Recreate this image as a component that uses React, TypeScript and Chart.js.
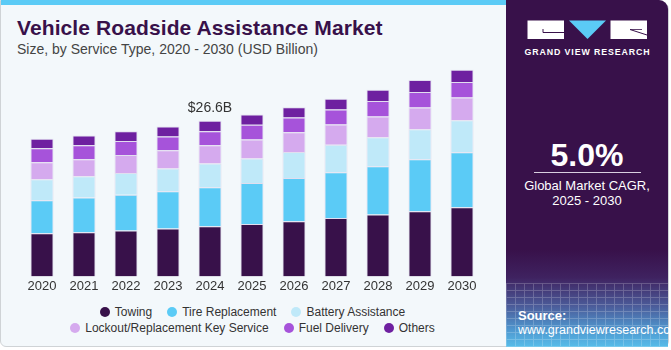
import React, { useEffect, useRef } from "react";
import { Chart, registerables } from "chart.js";

Chart.register(...registerables);

const years = ["2020", "2021", "2022", "2023", "2024", "2025", "2026", "2027", "2028", "2029", "2030"];
const towing = [7.37, 7.54, 7.83, 8.17, 8.57, 8.96, 9.42, 9.99, 10.57, 11.13, 11.82];
const tireReplacement = [5.65, 5.94, 6.12, 6.39, 6.68, 7.02, 7.42, 7.83, 8.27, 8.91, 9.42];
const batteryAssistance = [3.6, 3.65, 3.72, 3.89, 4.06, 4.16, 4.45, 4.68, 4.97, 5.14, 5.48];
const lockoutKey = [2.91, 2.91, 3.08, 3.13, 3.13, 3.25, 3.37, 3.48, 3.55, 3.72, 3.89];
const fuelDelivery = [2.4, 2.4, 2.4, 2.35, 2.4, 2.52, 2.52, 2.57, 2.62, 2.62, 2.62];
const others = [1.59, 1.66, 1.66, 1.71, 1.76, 1.76, 1.76, 1.83, 1.94, 2.06, 2.11];
const seriesNames = ["Towing", "Tire Replacement", "Battery Assistance", "Lockout/Replacement Key Service", "Fuel Delivery", "Others"];
const seriesColors = ["#38114a", "#5bcbf6", "#bfe9f9", "#d5aaee", "#a653da", "#6e20a0"];
const calloutIndex = 4;
const calloutText = "$26.6B";

const FONT = "'Liberation Sans', Arial, sans-serif";

const calloutPlugin = {
  id: "callout",
  afterDatasetsDraw(chart: any) {
    const { ctx, scales } = chart;
    const total = [towing, tireReplacement, batteryAssistance, lockoutKey, fuelDelivery, others]
      .reduce((s, arr) => s + arr[calloutIndex], 0);
    const x = scales.x.getPixelForValue(calloutIndex);
    const y = scales.y.getPixelForValue(total);
    ctx.save();
    ctx.font = `14px ${FONT}`;
    ctx.fillStyle = "#333333";
    ctx.textAlign = "center";
    ctx.textBaseline = "alphabetic";
    ctx.fillText(calloutText, x, y - 9);
    ctx.restore();
  },
};

function BarChart() {
  const ref = useRef<HTMLCanvasElement | null>(null);
  useEffect(() => {
    if (!ref.current) return;
    const data = [towing, tireReplacement, batteryAssistance, lockoutKey, fuelDelivery, others];
    const chart = new Chart(ref.current, {
      type: "bar",
      data: {
        labels: years,
        datasets: data.map((d, i) => ({
          label: seriesNames[i],
          data: d,
          backgroundColor: seriesColors[i],
          borderColor: "rgba(210,200,230,0.55)",
          borderWidth: 1,
          categoryPercentage: 1,
          barPercentage: 0.55,
        })),
      },
      options: {
        animation: false,
        responsive: false,
        maintainAspectRatio: false,
        layout: { padding: { left: 21, right: 17, top: 0, bottom: 0 } },
        scales: {
          x: {
            stacked: true,
            grid: { display: false, drawTicks: false },
            border: { display: false },
            ticks: { color: "#333333", font: { family: FONT, size: 13 }, padding: 2 },
          },
          y: {
            stacked: true,
            display: false,
            min: 0,
            max: 36.66,
          },
        },
        plugins: {
          tooltip: { enabled: false },
          legend: { display: false },
        },
      },
      plugins: [calloutPlugin],
    });
    return () => chart.destroy();
  }, []);
  return (
    <canvas
      ref={ref}
      width={500}
      height={234}
      style={{ position: "absolute", left: 0, top: 62, width: 500, height: 234 }}
    />
  );
}

function Legend() {
  const rows = [[0, 1, 2], [3, 4, 5]];
  return (
    <>
      {rows.map((row, r) => (
        <div
          key={r}
          style={{
            position: "absolute", left: 0, width: 505, top: 304 + r * 16, height: 16,
            display: "flex", justifyContent: "center", alignItems: "center", gap: 15,
            fontSize: 12, color: "#333333", whiteSpace: "nowrap",
          }}
        >
          {row.map((i) => (
            <div key={i} style={{ display: "flex", alignItems: "center", gap: 5 }}>
              <span style={{ width: 10, height: 10, borderRadius: 5, background: seriesColors[i], display: "inline-block" }} />
              <span>{seriesNames[i]}</span>
            </div>
          ))}
        </div>
      ))}
    </>
  );
}

function Logo() {
  return (
    <svg width={130} height={45} style={{ position: "absolute", left: 524, top: 17 }}>
      <rect x={3.5} y={3.5} width={36.5} height={18.5} fill="#ffffff" />
      <path d="M19 15.5 H40 M19 15.5 V12" stroke="#38114a" strokeWidth={1} fill="none" />
      <polygon points="45,3.5 82,3.5 63.5,22" fill="#5bcbf6" />
      <rect x={86.5} y={3.5} width={36.5} height={18.5} fill="#ffffff" />
      <path d="M106 12.5 L123 18" stroke="#38114a" strokeWidth={1} fill="none" />
      <path d="M106 12.5 H118" stroke="#38114a" strokeWidth={0.8} fill="none" />
      <text x={63.5} y={37.5} textAnchor="middle" fill="#ffffff" fontFamily={FONT} fontWeight={700} fontSize={8.8} letterSpacing={0.9}>
        GRAND VIEW RESEARCH
      </text>
    </svg>
  );
}

export default function App() {
  return (
    <div style={{ position: "fixed", left: 0, top: 0, width: 671, height: 350, background: "#ffffff", overflow: "hidden", fontFamily: FONT }}>
      <div
        style={{
          position: "absolute", left: 0, top: 0, width: 669, height: 347,
          background: "#f3f8fb", border: "1px solid #cfd3d6", borderRadius: "0 10px 6px 6px", boxSizing: "border-box",
        }}
      />
      <div style={{ position: "absolute", left: 1, top: 0, width: 506, height: 5, background: "#5bcbf6" }} />
      <div style={{ position: "absolute", left: 17, top: 16, fontSize: 21, fontWeight: 900, color: "#38114a", whiteSpace: "nowrap", letterSpacing: 0.1, lineHeight: "24px" }}>
        Vehicle Roadside Assistance Market
      </div>
      <div style={{ position: "absolute", left: 17, top: 41, fontSize: 14, color: "#444444", whiteSpace: "nowrap", lineHeight: "16px" }}>
        Size, by Service Type, 2020 - 2030 (USD Billion)
      </div>
      <BarChart />
      <Legend />
      <div
        style={{
          position: "absolute", left: 506, top: 0, width: 162, height: 347, borderTopRightRadius: 9,
          background:
            "linear-gradient(180deg, #38114a 0%, #38114a 72%, #3f2260 80%, #4b5a98 88%, #4f97cf 95%, #57bde9 100%)",
          overflow: "hidden",
        }}
      >
        <div
          style={{
            position: "absolute", left: 0, top: 283, width: 162, height: 64, opacity: 0.22,
            backgroundImage:
              "repeating-linear-gradient(90deg, rgba(255,255,255,0.9) 0px, rgba(255,255,255,0.9) 1px, transparent 1px, transparent 9px), repeating-linear-gradient(0deg, rgba(255,255,255,0.9) 0px, rgba(255,255,255,0.9) 1px, transparent 1px, transparent 7px)",
          }}
        />
      </div>
      <Logo />
      <div style={{ position: "absolute", left: 506, width: 162, top: 137, textAlign: "center", color: "#ffffff", fontSize: 32, fontWeight: 700 }}>
        5.0%
      </div>
      <div style={{ position: "absolute", left: 534, top: 172, width: 107, height: 1, background: "#d8cfe0" }} />
      <div style={{ position: "absolute", left: 506, width: 162, top: 178, textAlign: "center", color: "#ffffff", fontSize: 13, lineHeight: "15px" }}>
        Global Market CAGR,<br />2025 - 2030
      </div>
      <div style={{ position: "absolute", left: 518, top: 308, color: "#ffffff", fontSize: 13, fontWeight: 700, lineHeight: "15px" }}>
        Source:
      </div>
      <div style={{ position: "absolute", left: 518, top: 323, color: "#ffffff", fontSize: 12.5, lineHeight: "15px", whiteSpace: "nowrap" }}>
        www.grandviewresearch.com
      </div>
    </div>
  );
}
